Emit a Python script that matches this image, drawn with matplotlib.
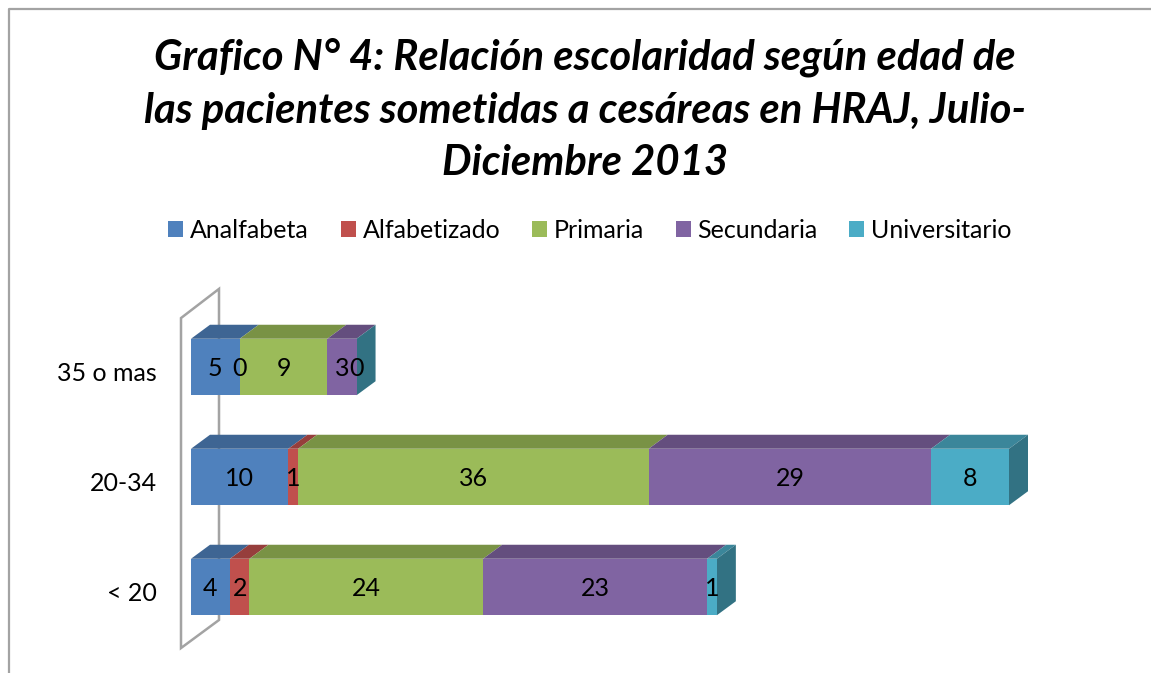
import matplotlib
matplotlib.use('Agg')
import matplotlib.pyplot as plt
from matplotlib.lines import Line2D
from matplotlib.patches import Polygon, Patch

plt.rcParams['font.family'] = ['Lato', 'DejaVu Sans']

# datos del grafico
categorias = ['< 20', '20-34', '35 o mas']
series = ['Analfabeta', 'Alfabetizado', 'Primaria', 'Secundaria', 'Universitario']
analfabeta = [4, 10, 5]
alfabetizado = [2, 1, 0]
primaria = [24, 36, 9]
secundaria = [23, 29, 3]
universitario = [1, 8, 0]
valores = [analfabeta, alfabetizado, primaria, secundaria, universitario]
colores = ['#4F81BD', '#C0504D', '#9BBB59', '#8064A2', '#4BACC6']
titulo = 'Grafico N° 4: Relación escolaridad según edad de\nlas pacientes sometidas a cesáreas en HRAJ, Julio-\nDiciembre 2013'

W, H = 1151, 673
fig = plt.figure(figsize=(W / 100, H / 100), dpi=100, facecolor='white')
# eje con x=0 en el pixel 191 y x=84 en el pixel 1009
ax = fig.add_axes([191 / W, (H - 642) / H, 818 / W, 330 / H])
ax.set_xlim(0, 84)
ax.set_ylim(-0.5, 2.5)
ax.axis('off')

pxx = 84 / 818
pxy = 3 / 330
dx = 19 * pxx   # profundidad 3D
dy = 14 * pxy
alto = 56.5 * pxy


def oscuro(c, f):
    rgb = matplotlib.colors.to_rgb(c)
    return tuple(v * f for v in rgb)


# pared del fondo
xa, xb = -10 * pxx, 28 * pxx
ax.add_patch(Polygon([(xa, -0.555), (xa, 2.445), (xb, 2.71), (xb, -0.30)], closed=True,
                     fill=False, edgecolor='#a3a3a3', linewidth=1.8, clip_on=False, zorder=1))

for i, cat in enumerate(categorias):
    y0 = i - alto / 2
    y1 = i + alto / 2
    left = 0
    for s in range(len(series)):
        v = valores[s][i]
        c = colores[s]
        ax.barh(i, v, left=left, height=alto, color=c, linewidth=0, zorder=3)
        ax.add_patch(Polygon([(left, y1), (left + v, y1), (left + v + dx, y1 + dy), (left + dx, y1 + dy)],
                             closed=True, facecolor=oscuro(c, 0.78), edgecolor='none', clip_on=False, zorder=2))
        ax.text(left + v / 2, i - 0.012, str(v), ha='center', va='center', fontsize=18, color='black', zorder=5)
        left += v
    # cara lateral, del color de la ultima serie
    ax.add_patch(Polygon([(left, y0), (left + dx, y0 + dy), (left + dx, y1 + dy), (left, y1)],
                         closed=True, facecolor=oscuro(colores[-1], 0.66), edgecolor='none', clip_on=False, zorder=2))
    ax.text(-34 * pxx, i - 0.055, cat, ha='right', va='center', fontsize=18, color='black')

# marco
fig.add_artist(Line2D([8.5 / W, 8.5 / W, 1], [0, 1 - 8.5 / H, 1 - 8.5 / H], color='#a3a3a3', linewidth=1.6))

fig.text(585 / W, 1 - 110 / H, titulo, ha='center', va='center', fontsize=30.1, fontweight='bold',
         fontstyle='italic', linespacing=1.46, color='black')

handles = [Patch(facecolor=c, edgecolor='none') for c in colores]
fig.legend(handles, series, loc='center', bbox_to_anchor=(590 / W, 1 - 230 / H), ncol=5, frameon=False,
           fontsize=18, handlelength=0.6, handleheight=0.6, handletextpad=0.28, columnspacing=1.26,
           borderpad=0)

fig.savefig('out.png', dpi=100)
